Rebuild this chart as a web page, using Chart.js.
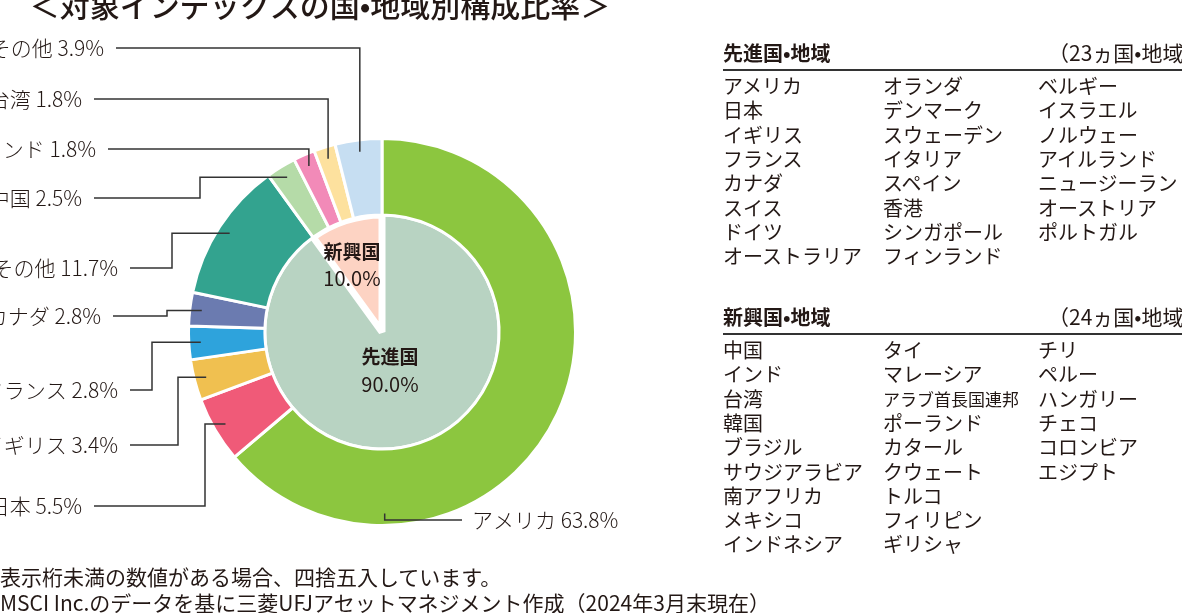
<!DOCTYPE html>
<html><head><meta charset="utf-8">
<script src="https://cdn.jsdelivr.net/npm/chart.js@4/dist/chart.umd.min.js"></script>
<style>
body{margin:0;width:1182px;height:613px;overflow:hidden;background:#fff;font-family:"Noto Sans CJK JP","Noto Sans",sans-serif;color:#231815;position:relative}
#c{position:absolute;left:0;top:0}
.t{position:absolute;font-size:20px;white-space:nowrap;line-height:24.3px}
.h{position:absolute;font-size:20px;font-weight:bold;white-space:nowrap}
.ln{position:absolute;height:1.5px;background:#333;left:723px;width:470px}
</style></head><body>
<canvas id="c" width="1182" height="613"></canvas>
<div id="tbl"></div>
<script>
const outerLabels=['アメリカ','日本','イギリス','フランス','カナダ','その他(先進国)','中国','インド','台湾','その他(新興国)'];
const outerValues=[63.8,5.5,3.4,2.8,2.8,11.7,2.5,1.8,1.8,3.9];
const outerColors=['#8cc63f','#f05a78','#f0c050','#2ea3dc','#6b7bb0','#33a38f','#b5dba8','#f28ab8','#fde19e','#c6def2'];
const innerLabels=['先進国','新興国'];
const innerValues=[90.0,10.0];
const innerColors=['#b8d3c2','#fdd3c3'];
const calloutText=['アメリカ 63.8%','日本 5.5%','イギリス 3.4%','フランス 2.8%','カナダ 2.8%','その他 11.7%','中国 2.5%','インド 1.8%','台湾 1.8%','その他 3.9%'];
const devCountries=[['アメリカ','日本','イギリス','フランス','カナダ','スイス','ドイツ','オーストラリア'],['オランダ','デンマーク','スウェーデン','イタリア','スペイン','香港','シンガポール','フィンランド'],['ベルギー','イスラエル','ノルウェー','アイルランド','ニュージーランド','オーストリア','ポルトガル']];
const emCountries=[['中国','インド','台湾','韓国','ブラジル','サウジアラビア','南アフリカ','メキシコ','インドネシア'],['タイ','マレーシア','アラブ首長国連邦','ポーランド','カタール','クウェート','トルコ','フィリピン','ギリシャ'],['チリ','ペルー','ハンガリー','チェコ','コロンビア','エジプト']];

// layout of callouts: [text anchor x, y, align, elbowX (null=anchor x), fraction along slice]
const callLayout=[[472,520,'left',null,0.78],[82,506,'right',205,0.5],[118,445,'right',178,0.5],[118,390,'right',152,0.5],[101,316,'right',167,0.5],[118,268,'right',172,0.5],[82,198,'right',200,0.5],[96,149,'right',null,0.5],[82,99,'right',null,0.5],[104,48,'right',null,0.5]];

const tbl=document.getElementById('tbl');
function block(title,count,cols,y0){
  tbl.insertAdjacentHTML('beforeend',`<div class="h" style="left:723px;top:${y0}px">${title}</div><div class="t" style="left:1048px;top:${y0+2}px;font-size:21px">（${count}ヵ国•地域）</div><div class="ln" style="top:${y0+31}px"></div>`);
  const xs=[723,883,1038];
  cols.forEach((c,i)=>c.forEach((n,j)=>{
    const small=n.length>7&&i==1?'font-size:17px;':'';
    tbl.insertAdjacentHTML('beforeend',`<div class="t" style="left:${xs[i]}px;top:${y0+36+j*24.3}px;${small}">${n}</div>`);
  }));
}
block('先進国•地域',23,devCountries,38);
block('新興国•地域',24,emCountries,302);
tbl.insertAdjacentHTML('beforeend',`<div class="t" style="left:-21px;top:564px;font-size:21px">※表示桁未満の数値がある場合、四捨五入しています。</div><div class="t" style="left:-63px;top:590px;font-size:21px">出所：MSCI Inc.のデータを基に三菱UFJアセットマネジメント作成（2024年3月末現在）</div>`);

const overlay={id:'overlay',afterDraw(ch){
  const ctx=ch.ctx;ctx.save();
  ctx.fillStyle='#231815';ctx.font='500 30px "Noto Sans CJK JP"';ctx.textAlign='center';ctx.textBaseline='middle';
  ctx.fillText('＜対象インデックスの国•地域別構成比率＞',320,6);
  const meta=ch.getDatasetMeta(0);
  ctx.font='300 21px "Noto Sans CJK JP"';ctx.strokeStyle='#333';ctx.lineWidth=1.5;
  meta.data.forEach((a,i)=>{
    const L=callLayout[i];
    const ang=a.startAngle+(a.endAngle-a.startAngle)*L[4];
    const r=a.outerRadius-12;
    const ax=a.x+Math.cos(ang)*r, ay=a.y+Math.sin(ang)*r;
    ctx.textAlign=L[2];
    ctx.fillText(calloutText[i],L[0],L[1]);
    const ex=L[3]===null?ax:L[3];
    const sx=L[2]==='right'?L[0]+12:L[0]-10;
    ctx.beginPath();ctx.moveTo(sx,L[1]);ctx.lineTo(ex,L[1]);ctx.lineTo(ex,ay);ctx.lineTo(ax,ay);ctx.stroke();
  });
  ctx.textAlign='center';
  ctx.font='bold 19px "Noto Sans CJK JP"';ctx.fillText('新興国',352,252);ctx.fillText('先進国',390,357);
  ctx.font='20px "Noto Sans CJK JP"';ctx.fillText('10.0%',352,278);ctx.fillText('90.0%',390,384);
  ctx.restore();
}};

new Chart(document.getElementById('c'),{
  type:'doughnut',
  data:{datasets:[
    {labels:outerLabels,data:outerValues,backgroundColor:outerColors,borderColor:'#fff',borderWidth:3,weight:77},
    {labels:innerLabels,data:innerValues,backgroundColor:innerColors,borderColor:'#fff',borderWidth:[3,7],weight:118}
  ]},
  options:{responsive:false,animation:false,cutout:0,layout:{padding:{left:187,right:605,top:137,bottom:86}},
    plugins:{legend:{display:false},tooltip:{enabled:false}}},
  plugins:[overlay]
});
</script></body></html>
